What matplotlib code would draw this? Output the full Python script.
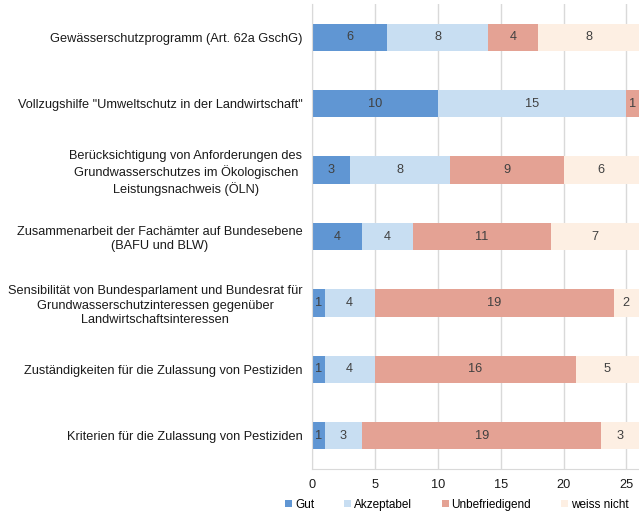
import matplotlib.pyplot as plt
import numpy as np

plt.rcParams['font.family'] = ['Liberation Sans', 'DejaVu Sans']

# Kategorien (von oben nach unten)
categories = [
    'Gewässerschutzprogramm (Art. 62a GschG)',
    'Vollzugshilfe "Umweltschutz in der Landwirtschaft"',
    'Berücksichtigung von Anforderungen des\nGrundwasserschutzes im Ökologischen\nLeistungsnachweis (ÖLN)',
    'Zusammenarbeit der Fachämter auf Bundesebene\n(BAFU und BLW)',
    'Sensibilität von Bundesparlament und Bundesrat für\nGrundwasserschutzinteressen gegenüber\nLandwirtschaftsinteressen',
    'Zuständigkeiten für die Zulassung von Pestiziden',
    'Kriterien für die Zulassung von Pestiziden',
]
series_names = ['Gut', 'Akzeptabel', 'Unbefriedigend', 'weiss nicht']
gut = [6, 10, 3, 4, 1, 1, 1]
akzeptabel = [8, 15, 8, 4, 4, 4, 3]
unbefriedigend = [4, 1, 9, 11, 19, 16, 19]
weiss_nicht = [8, 0, 6, 7, 2, 5, 3]
colors = ['#6096D3', '#C8DEF2', '#E4A294', '#FDEFE3']

fs = 9.2

fig = plt.figure(figsize=(6.39, 5.12), dpi=100)
ax = fig.add_axes([312 / 639, 1 - 469 / 512, 1 - 312 / 639, 465 / 512])

y = np.arange(len(categories))
left = np.zeros(len(categories))
for name, vals, col in zip(series_names, [gut, akzeptabel, unbefriedigend, weiss_nicht], colors):
    vals = np.array(vals, dtype=float)
    bars = ax.barh(y, vals, left=left, height=0.41, color=col, label=name, zorder=2)
    for b, v in zip(bars, vals):
        if v > 0:
            ax.text(b.get_x() + v / 2, b.get_y() + b.get_height() / 2, f'{int(v)}',
                    ha='center', va='center', fontsize=fs, color='#404040', zorder=3)
    left += vals

ax.set_xlim(0, 26)
ax.set_ylim(6.5, -0.5)
ax.set_xticks([0, 5, 10, 15, 20, 25])
ax.set_yticks(y)
ax.set_yticklabels(categories, multialignment='center', fontsize=fs, color='#1a1a1a',
                   linespacing=1.25)
ax.tick_params(axis='y', length=0, pad=7)
ax.tick_params(axis='x', length=0, labelsize=fs, labelcolor='#1a1a1a', pad=7)
ax.grid(axis='x', color='#D9D9D9', linewidth=1, zorder=0)
for s in ['top', 'right']:
    ax.spines[s].set_visible(False)
ax.spines['left'].set_color('#D9D9D9')
ax.spines['bottom'].set_color('#D9D9D9')

fig.legend(loc='lower center', bbox_to_anchor=(0.715, -0.018), ncol=4, frameon=False,
           fontsize=8.5, handlelength=0.6, handleheight=0.6, handletextpad=0.25,
           columnspacing=2.5)

fig.savefig('out.png', dpi=100)
